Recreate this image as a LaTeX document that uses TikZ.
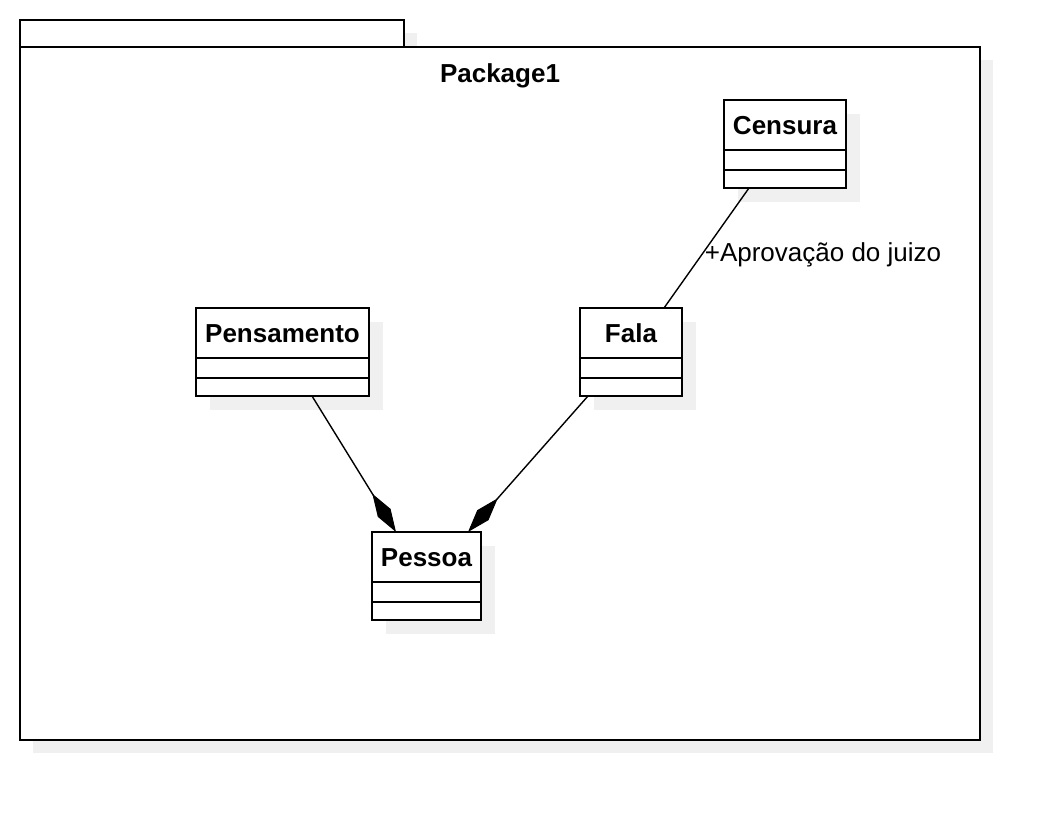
\documentclass[tikz,border=0pt]{standalone}
\usepackage{fontspec}
\setmainfont{Liberation Sans}
\usetikzlibrary{calc,arrows.meta}
\definecolor{shadowgray}{RGB}{240,240,240}
\tikzset{
  clsbox/.style={draw, line width=1.7pt, fill=white, minimum width=#1, minimum height=88pt, inner sep=0pt, outer sep=0pt, anchor=north west},
  clsname/.style={font=\bfseries\fontsize{26}{30}\selectfont, inner sep=0pt, anchor=base},
  pkgline/.style={line width=1.8pt},
  assoc/.style={line width=1.4pt},
  compo/.style={line width=1.4pt, -{Diamond[length=45pt,width=15pt,line width=1pt]}},
  rolelabel/.style={font=\fontsize{26}{30}\selectfont, inner sep=0pt},
}
\newcommand{\umlcls}[5]{%
  \fill[shadowgray] (#2+14,#3+14) rectangle ++(#4,88);
  \node[clsbox=#4pt] (#1) at (#2,#3) {};
  \node[clsname] (#1-name) at ($(#1.north)+(0,34)$) {#5};
  \draw[line width=1.7pt] ($(#1.north west)+(0,50)$) -- ($(#1.north east)+(0,50)$);
  \draw[line width=1.7pt] ($(#1.north west)+(0,70)$) -- ($(#1.north east)+(0,70)$);
}
\begin{document}
\begin{tikzpicture}[x=1pt,y=-1pt]
\useasboundingbox[fill=white] (0,0) rectangle (1060,820);
% package shadow
\fill[shadowgray] (33,33) rectangle (417,60);
\fill[shadowgray] (33,60) rectangle (993,753);
% package
\node[draw, pkgline, fill=white, minimum width=384pt, minimum height=27pt, inner sep=0pt, outer sep=0pt, anchor=north west] (tab) at (20,20) {};
\node[draw, pkgline, fill=white, minimum width=960pt, minimum height=693pt, inner sep=0pt, outer sep=0pt, anchor=north west] (pkg) at (20,47) {};
\node[clsname] (pkgname) at ($(pkg.north)+(0,35)$) {Package1};
% classes
\umlcls{censura}{724}{100}{122}{Censura}
\umlcls{pensamento}{196}{308}{173}{Pensamento}
\umlcls{fala}{580}{308}{102}{Fala}
\umlcls{pessoa}{372}{532}{109}{Pessoa}
% connectors
\draw[assoc] ([xshift=-36pt]censura.south) -- node[rolelabel, pos=0.61, anchor=base west, xshift=7pt] (role) {+Aprovação do juizo} ([xshift=33pt]fala.north);
\draw[compo] ([xshift=29.5pt]pensamento.south) -- ([xshift=-30.5pt]pessoa.north);
\draw[compo] ([xshift=-43pt]fala.south) -- ([xshift=41.5pt]pessoa.north);
\end{tikzpicture}
\end{document}
